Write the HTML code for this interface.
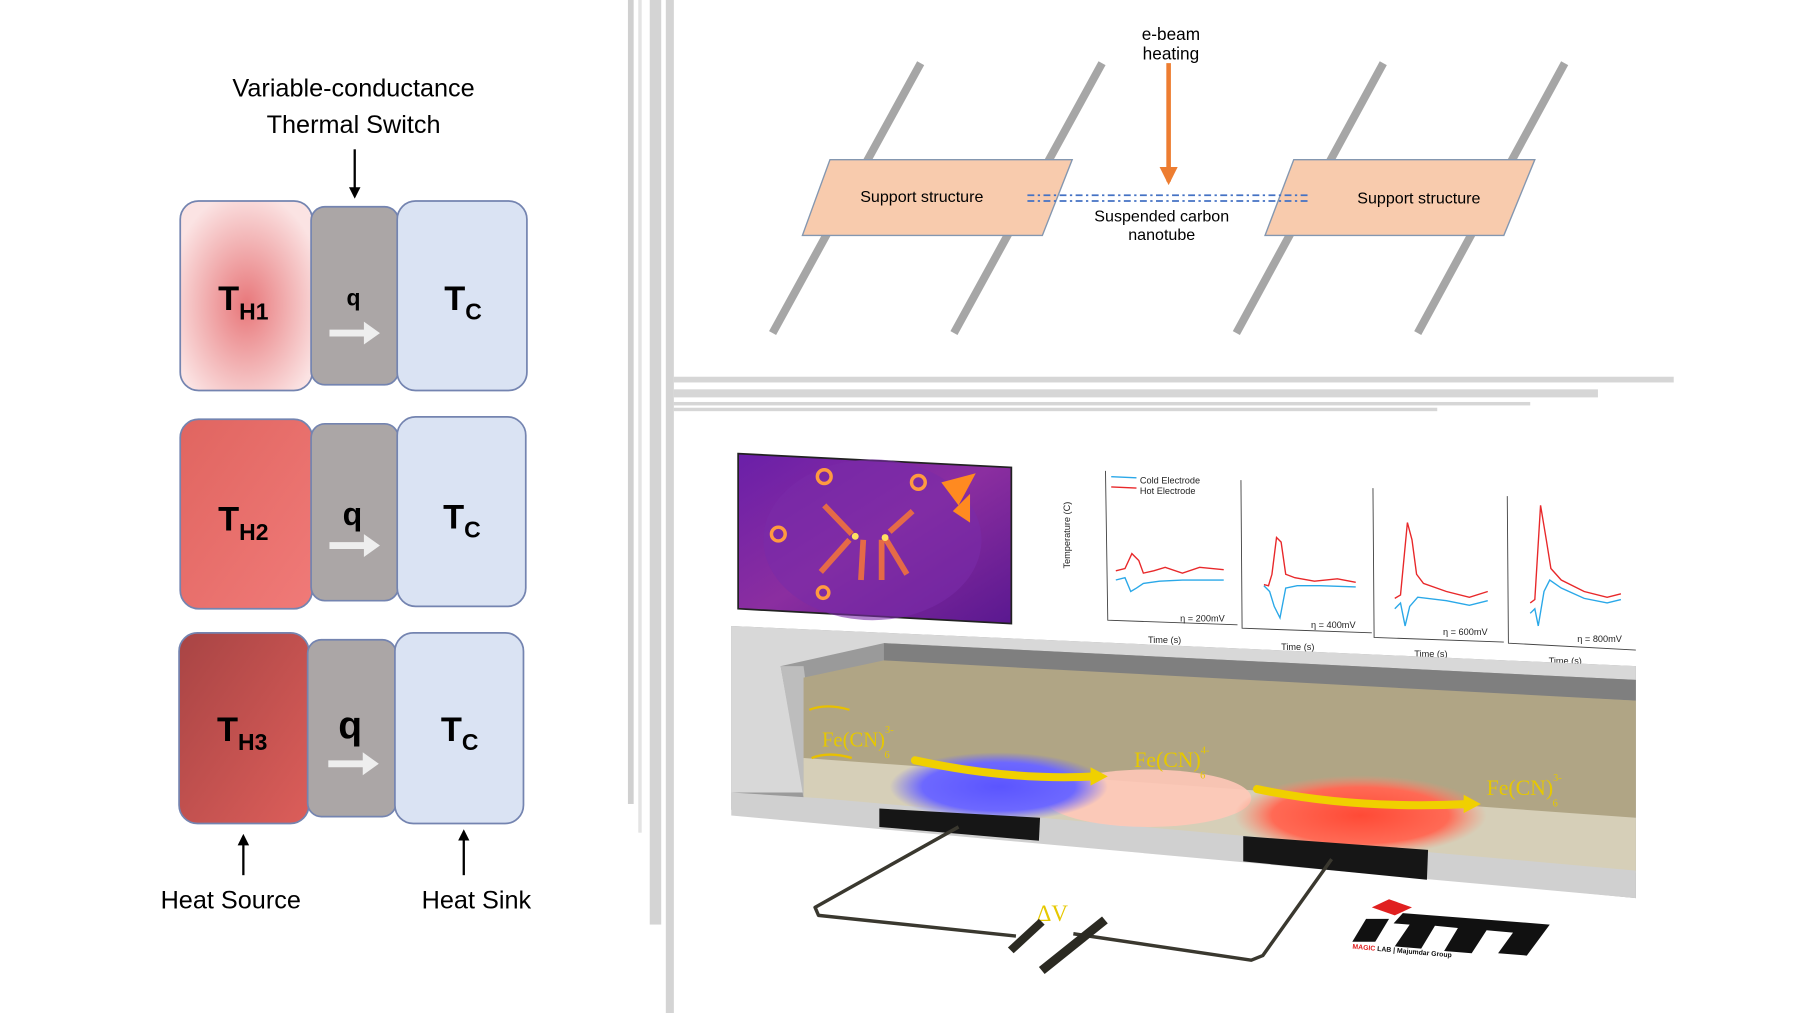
<!DOCTYPE html>
<html><head><meta charset="utf-8"><style>
html,body{margin:0;padding:0;background:#fff;}
svg{display:block;font-family:"Liberation Sans",sans-serif;}
</style></head><body>
<svg width="1800" height="1013" viewBox="0 0 1568 882" preserveAspectRatio="none" xmlns="http://www.w3.org/2000/svg">
<defs>
<radialGradient id="h1" cx="0.5" cy="0.55" r="0.6"><stop offset="0" stop-color="#e8777a"/><stop offset="0.6" stop-color="#f3b8b9"/><stop offset="1" stop-color="#fbe3e3"/></radialGradient>
<linearGradient id="h2" x1="0" y1="0" x2="1" y2="1"><stop offset="0" stop-color="#e06560"/><stop offset="1" stop-color="#f07a78"/></linearGradient>
<linearGradient id="h3" x1="0" y1="0" x2="1" y2="1"><stop offset="0" stop-color="#a84444"/><stop offset="1" stop-color="#dc5e5a"/></linearGradient>
<linearGradient id="ir" x1="0" y1="0" x2="1" y2="1"><stop offset="0" stop-color="#6a1fa8"/><stop offset="0.5" stop-color="#8b2ea0"/><stop offset="1" stop-color="#5a1890"/></linearGradient>
<radialGradient id="blue" cx="0.5" cy="0.5" r="0.5"><stop offset="0" stop-color="#5b55ff"/><stop offset="0.7" stop-color="#6d68ff"/><stop offset="1" stop-color="#6d68ff" stop-opacity="0"/></radialGradient>
<radialGradient id="red" cx="0.5" cy="0.5" r="0.5"><stop offset="0" stop-color="#ff4a36"/><stop offset="0.7" stop-color="#ff6a55"/><stop offset="1" stop-color="#ff8a70" stop-opacity="0"/></radialGradient>
<marker id="ah" viewBox="0 0 10 10" refX="8" refY="5" markerWidth="5" markerHeight="5" orient="auto"><path d="M0,0L10,5L0,10z" fill="#000"/></marker>
<marker id="ao" viewBox="0 0 10 10" refX="8" refY="5" markerWidth="4" markerHeight="4" orient="auto"><path d="M0,0L10,5L0,10z" fill="#ed7d31"/></marker>
</defs>

<!-- left diagram -->
<text x="308" y="84" font-size="22" text-anchor="middle">Variable-conductance</text>
<text x="308" y="116" font-size="22" text-anchor="middle">Thermal Switch</text>
<line x1="309" y1="130" x2="309" y2="171" stroke="#000" stroke-width="2" marker-end="url(#ah)"/>

<g stroke="#7484b0" stroke-width="1.5">
<rect x="157" y="175" width="115" height="165" rx="16" fill="url(#h1)"/>
<rect x="271" y="180" width="76" height="155" rx="12" fill="#aba6a6"/>
<rect x="346" y="175" width="113" height="165" rx="16" fill="#dae3f3"/>
<rect x="157" y="365" width="115" height="165" rx="16" fill="url(#h2)"/>
<rect x="271" y="369" width="76" height="154" rx="12" fill="#aba6a6"/>
<rect x="346" y="363" width="112" height="165" rx="16" fill="#dae3f3"/>
<rect x="156" y="551" width="113" height="166" rx="16" fill="url(#h3)"/>
<rect x="268" y="557" width="77" height="154" rx="12" fill="#aba6a6"/>
<rect x="344" y="551" width="112" height="166" rx="16" fill="#dae3f3"/>
</g>
<g font-weight="bold" fill="#000">
<text x="190" y="270" font-size="30">T<tspan font-size="20" dy="8">H1</tspan></text>
<text x="190" y="462" font-size="30">T<tspan font-size="20" dy="8">H2</tspan></text>
<text x="189" y="645" font-size="30">T<tspan font-size="20" dy="8">H3</tspan></text>
<text x="387" y="270" font-size="30">T<tspan font-size="20" dy="8">C</tspan></text>
<text x="386" y="460" font-size="30">T<tspan font-size="20" dy="8">C</tspan></text>
<text x="384" y="645" font-size="30">T<tspan font-size="20" dy="8">C</tspan></text>
<text x="308" y="266" font-size="20" text-anchor="middle">q</text>
<text x="307" y="457" font-size="28" text-anchor="middle">q</text>
<text x="305" y="643" font-size="34" text-anchor="middle">q</text>
</g>
<g fill="#eee">
<path d="M287,287h30v-7l14,10l-14,10v-7h-30z"/>
<path d="M287,472h30v-7l14,10l-14,10v-7h-30z"/>
<path d="M286,662h30v-7l14,10l-14,10v-7h-30z"/>
</g>
<line x1="212" y1="762" x2="212" y2="728" stroke="#000" stroke-width="2" marker-end="url(#ah)"/>
<line x1="404" y1="762" x2="404" y2="724" stroke="#000" stroke-width="2" marker-end="url(#ah)"/>
<text x="201" y="791" font-size="22" text-anchor="middle">Heat Source</text>
<text x="415" y="791" font-size="22" text-anchor="middle">Heat Sink</text>

<!-- separators -->
<rect x="547" y="0" width="5" height="700" fill="#d0d0d0"/>
<rect x="556" y="0" width="3" height="725" fill="#e4e4e4"/>
<rect x="566" y="0" width="10" height="805" fill="#d4d4d4"/>
<rect x="580" y="0" width="7" height="882" fill="#d4d4d4"/>
<rect x="587" y="328" width="871" height="5" fill="#d6d6d6"/>
<rect x="587" y="339" width="805" height="7" fill="#d6d6d6"/>
<rect x="587" y="350" width="746" height="3" fill="#d6d6d6"/>
<rect x="587" y="355" width="665" height="3" fill="#d6d6d6"/>

<!-- CNT diagram -->
<g stroke="#a6a6a6" stroke-width="7">
<line x1="802" y1="55" x2="673" y2="290"/>
<line x1="960" y1="55" x2="831" y2="290"/>
<line x1="1205" y1="55" x2="1077" y2="290"/>
<line x1="1363" y1="55" x2="1235" y2="290"/>
</g>
<polygon points="723,139 934,139 908,205 699,205" fill="#f8cbad" stroke="#8497b0" stroke-width="1.2"/>
<polygon points="1127,139 1337,139 1310,205 1102,205" fill="#f8cbad" stroke="#8497b0" stroke-width="1.2"/>
<text x="803" y="176" font-size="14" text-anchor="middle">Support structure</text>
<text x="1236" y="177" font-size="14" text-anchor="middle">Support structure</text>
<line x1="895" y1="170" x2="1140" y2="170" stroke="#4472c4" stroke-width="1.5" stroke-dasharray="6,3,2,3"/>
<line x1="895" y1="175" x2="1140" y2="175" stroke="#4472c4" stroke-width="1.5" stroke-dasharray="6,3,2,3"/>
<line x1="1018" y1="55" x2="1018" y2="158" stroke="#ed7d31" stroke-width="4" marker-end="url(#ao)"/>
<text x="1020" y="35" font-size="15" text-anchor="middle">e-beam</text>
<text x="1020" y="52" font-size="15" text-anchor="middle">heating</text>
<text x="1012" y="193" font-size="14" text-anchor="middle">Suspended carbon</text>
<text x="1012" y="209" font-size="14" text-anchor="middle">nanotube</text>

<!-- IR image -->
<polygon points="643,395 881,407 881,543 643,530" fill="url(#ir)" stroke="#222" stroke-width="1.5"/>
<ellipse cx="760" cy="470" rx="95" ry="70" fill="#7a2ba8" opacity="0.6"/>
<g fill="none" stroke="#ff9a40" stroke-width="3">
<circle cx="718" cy="415" r="6"/><circle cx="800" cy="420" r="6"/><circle cx="678" cy="465" r="6"/><circle cx="717" cy="516" r="5"/>
</g>
<g stroke="#ff7a30" stroke-width="5" opacity="0.8">
<line x1="718" y1="440" x2="742" y2="465"/><line x1="795" y1="445" x2="775" y2="463"/>
<line x1="740" y1="470" x2="715" y2="498"/><line x1="752" y1="470" x2="750" y2="505"/><line x1="768" y1="470" x2="768" y2="505"/><line x1="772" y1="470" x2="790" y2="500"/>
</g>
<polygon points="820,420 850,412 835,440" fill="#ff8a20"/>
<polygon points="830,445 845,430 845,455" fill="#ff8a20"/>
<circle cx="745" cy="467" r="3" fill="#ffe060"/><circle cx="771" cy="468" r="3" fill="#ffe060"/>

<!-- graphs -->
<g stroke="#444" stroke-width="0.8" fill="none">
<polyline points="963,410 965,540 1078,544"/>
<polyline points="1081,418 1082,547 1195,551"/>
<polyline points="1196,425 1197,555 1310,559"/>
<polyline points="1313,432 1314,560 1425,566"/>
</g>
<g stroke="#e8282a" stroke-width="1.2" fill="none">
<polyline points="972,497 980,495 986,482 992,488 996,499 1005,497 1015,494 1030,499 1045,494 1066,496"/>
<polyline points="1101,509 1105,510 1108,500 1112,468 1116,472 1120,500 1128,503 1145,506 1165,504 1181,507"/>
<polyline points="1215,521 1220,518 1226,455 1230,470 1234,500 1240,508 1260,515 1280,520 1296,515"/>
<polyline points="1333,525 1337,522 1342,440 1347,470 1351,495 1360,505 1380,515 1400,520 1412,517"/>
</g>
<g stroke="#2aa8e8" stroke-width="1.2" fill="none">
<polyline points="972,505 980,503 985,515 990,512 996,508 1010,506 1030,505 1050,505 1066,505"/>
<polyline points="1101,510 1106,515 1110,528 1115,538 1120,512 1130,510 1150,510 1181,511"/>
<polyline points="1215,530 1220,525 1224,545 1228,528 1235,520 1260,523 1280,527 1296,523"/>
<polyline points="1333,534 1337,530 1340,545 1345,515 1350,505 1360,512 1380,521 1400,525 1412,522"/>
<line x1="968" y1="415" x2="990" y2="416"/>
</g>
<line x1="968" y1="424" x2="990" y2="425" stroke="#e8282a" stroke-width="1.2"/>
<g font-size="8" fill="#222">
<text x="993" y="421">Cold Electrode</text><text x="993" y="430">Hot Electrode</text>
<text x="932" y="495" transform="rotate(-90 932 495)">Temperature (C)</text>
<text x="1028" y="541">η = 200mV</text><text x="1142" y="547">η = 400mV</text><text x="1257" y="553">η = 600mV</text><text x="1374" y="559">η = 800mV</text>
<text x="1000" y="560">Time (s)</text><text x="1116" y="566">Time (s)</text><text x="1232" y="572">Time (s)</text><text x="1349" y="578">Time (s)</text>
</g>

<!-- channel -->
<polygon points="637,545 1425,580 1425,782 637,705" fill="#9a9a9a"/>
<polygon points="637,545 1425,580 1425,592 770,560 680,580 700,690 637,690" fill="#d8d8d8"/>
<polygon points="770,560 1425,592 1425,610 770,578" fill="#7f7f7f"/>
<polygon points="680,580 700,580 715,695 700,695" fill="#bdbdbd"/>
<polygon points="700,590 770,575 1425,610 1425,712 700,695" fill="#b0a585"/>
<polygon points="700,660 1425,712 1425,760 700,705" fill="#d6cfb8"/>
<polygon points="637,690 715,695 1425,758 1425,782 637,710" fill="#d0d0d0"/>
<ellipse cx="1000" cy="695" rx="90" ry="25" fill="#ffc8b8" opacity="0.9"/>
<ellipse cx="870" cy="685" rx="95" ry="30" fill="url(#blue)"/>
<ellipse cx="1185" cy="710" rx="110" ry="35" fill="url(#red)"/>
<polygon points="766,704 906,712 905,732 766,720" fill="#161616"/>
<polygon points="1083,728 1244,740 1243,766 1083,750" fill="#161616"/>
<g fill="none" stroke="#f0d000" stroke-width="7" stroke-linecap="round">
<path d="M797,662 Q880,680 955,676"/>
<path d="M1095,687 Q1180,705 1280,700"/>
</g>
<polygon points="950,668 965,676 950,684" fill="#f0d000"/>
<polygon points="1275,692 1290,700 1275,708" fill="#f0d000"/>
<path d="M705,618 Q720,612 740,618" stroke="#e8c000" stroke-width="2" fill="none"/>
<path d="M707,660 Q722,654 742,660" stroke="#e8c000" stroke-width="2" fill="none"/>
<g fill="#e6c800" font-family="Liberation Serif,serif">
<text x="716" y="650" font-size="18">Fe(CN)<tspan font-size="9" dy="-12">3-</tspan><tspan font-size="9" dx="-8" dy="22">6</tspan></text>
<text x="988" y="668" font-size="19">Fe(CN)<tspan font-size="9" dy="-12">4-</tspan><tspan font-size="9" dx="-8" dy="22">6</tspan></text>
<text x="1295" y="692" font-size="19">Fe(CN)<tspan font-size="9" dy="-12">3-</tspan><tspan font-size="9" dx="-8" dy="22">6</tspan></text>
<text x="903" y="802" font-size="20">ΔV</text>
</g>
<g fill="none" stroke="#3a382f" stroke-width="3" stroke-linejoin="round">
<polyline points="835,720 710,790 713,797 885,815"/>
<polyline points="1160,748 1100,832 1090,836 935,813"/>
</g>
<polygon points="878,825 905,800 910,805 883,830" fill="#2b2a22"/>
<polygon points="905,842 960,798 965,804 910,848" fill="#2b2a22"/>
<!-- logo -->
<polygon points="1195,790 1210,783 1230,790 1215,797" fill="#e02020"/>
<g fill="#111">
<polygon points="1190,800 1210,800 1198,820 1178,820"/>
<polygon points="1222,795 1350,805 1330,832 1305,830 1318,812 1295,810 1282,830 1258,828 1270,808 1250,806 1238,826 1215,824 1228,805 1214,804"/>
</g>
<text x="1178" y="826" font-size="6" font-weight="bold" fill="#e02020" transform="rotate(5 1178 826)">MAGIC <tspan fill="#111">LAB | Majumdar Group</tspan></text>
</svg>
</body></html>
